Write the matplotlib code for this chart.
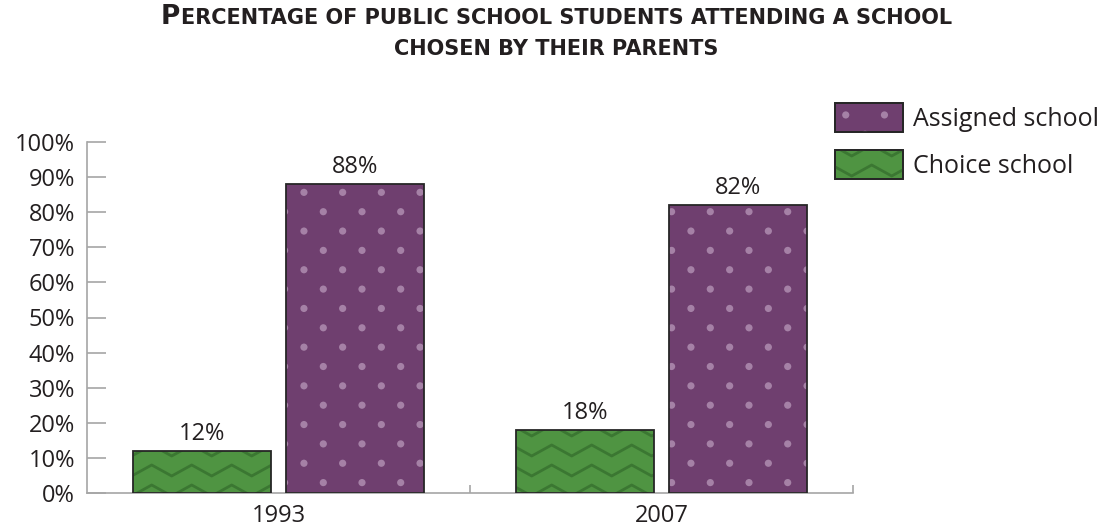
import numpy as np
import matplotlib
matplotlib.use("Agg")
import matplotlib.pyplot as plt
import matplotlib.patches as mpatches
from matplotlib.collections import LineCollection, PatchCollection
from matplotlib.transforms import IdentityTransform
from matplotlib.ticker import PercentFormatter

plt.rcParams['font.family'] = ['Open Sans', 'DejaVu Sans']

# data
years = ["1993", "2007"]
choice_pct = [12, 18]
assigned_pct = [88, 82]
series_labels = ["Assigned school", "Choice school"]
title_lines = ["Percentage of public school students attending a school",
               "chosen by their parents"]

GREEN = "#4f9442"
GREEN_LINE = "#3b7732"
PURPLE = "#6f3f6f"
PURPLE_DOT = "#a581a6"
EDGE = "#262626"
AXIS = "#a6a6a6"
TEXT = "#231f20"
FS = 17

W, H = 1110, 529
fig = plt.figure(figsize=(W / 100, H / 100), dpi=100)
ax = fig.add_axes([87 / W, 36 / H, 766 / W, 351 / H])

x = np.arange(len(years))
off, bw = 0.2, 0.36
green_bars = ax.bar(x - off, choice_pct, bw, color=GREEN, zorder=2)
purple_bars = ax.bar(x + off, assigned_pct, bw, color=PURPLE, zorder=2)
# outlines on top of the fill patterns
ax.bar(x - off, choice_pct, bw, fill=False, edgecolor=EDGE, linewidth=1.3, zorder=4)
ax.bar(x + off, assigned_pct, bw, fill=False, edgecolor=EDGE, linewidth=1.3, zorder=4)

for xi, v in zip(x - off, choice_pct):
    ax.annotate(f"{v}%", (xi, v), xytext=(0, 8), textcoords='offset points',
                ha='center', va='baseline', fontsize=FS, color=TEXT)
for xi, v in zip(x + off, assigned_pct):
    ax.annotate(f"{v}%", (xi, v), xytext=(0, 8), textcoords='offset points',
                ha='center', va='baseline', fontsize=FS, color=TEXT)

ax.set_xlim(-0.5, 1.5)
ax.set_ylim(0, 100)
ax.set_yticks(np.arange(0, 101, 10))
ax.yaxis.set_major_formatter(PercentFormatter(decimals=0))
ax.set_xticks(x, years)
ax.set_xticks([0.5, 1.5], minor=True)

for s in ['top', 'right']:
    ax.spines[s].set_visible(False)
for s in ['left', 'bottom']:
    ax.spines[s].set_color(AXIS)
    ax.spines[s].set_linewidth(1.2)

ax.tick_params(axis='y', direction='in', length=13.7, width=1.2, color=AXIS,
               pad=8.6, labelsize=FS, labelcolor=TEXT)
ax.tick_params(axis='x', which='major', length=0, pad=8, labelsize=FS, labelcolor=TEXT)
ax.tick_params(axis='x', which='minor', direction='in', length=5.8, width=1.2, color=AXIS)

leg_fs = 18
fs_px = leg_fs * 100 / 72
leg = fig.legend(handles=[mpatches.Patch(facecolor=PURPLE, edgecolor=EDGE, linewidth=1.3),
                          mpatches.Patch(facecolor=GREEN, edgecolor=EDGE, linewidth=1.3)],
                 labels=series_labels, loc='upper left',
                 bbox_to_anchor=(835 / W, 1 - 103 / H), bbox_transform=fig.transFigure,
                 frameon=False, fontsize=leg_fs, labelcolor=TEXT,
                 handlelength=68 / fs_px, handleheight=35 / fs_px,
                 handletextpad=10 / fs_px, labelspacing=18 / fs_px,
                 borderpad=0, borderaxespad=0)

# small caps title: first capital larger, the rest upper-cased at a smaller size
title_parts = [[(title_lines[0][0], 19), (title_lines[0][1:], 15)],
               [(title_lines[1], 15)]]
title_texts = []
for parts, y_px in zip(title_parts, [505, 474]):
    row = [fig.text(0, y_px / H, t.upper(), fontsize=s, fontweight='bold',
                    family='DejaVu Sans', va='baseline', color=TEXT) for t, s in parts]
    title_texts.append(row)

fig.canvas.draw()
renderer = fig.canvas.get_renderer()

for row in title_texts:
    widths = [t.get_window_extent(renderer).width for t in row]
    x0 = 556 - (sum(widths) + 1 * (len(row) - 1)) / 2
    for t, w in zip(row, widths):
        t.set_x(x0 / W)
        x0 += w + 1


def zigzag(bb):
    # chevron rows, anchored to the page so neighbouring bars line up
    period, amp, step = 40.0, 11.0, 20.0
    kx0 = np.floor((bb.x0 - 31.7) / period) - 1
    kx1 = np.ceil((bb.x1 - 31.7) / period) + 1
    peaks = 31.7 + period * np.arange(kx0, kx1 + 1)
    ky0 = np.floor((bb.y0 - 4) / step) - 1
    ky1 = np.ceil((bb.y1 - 4) / step) + 1
    segs = []
    for yp in 4 + step * np.arange(ky0, ky1 + 1):
        pts = []
        for px in peaks:
            pts.append((px - period / 2, yp - amp))
            pts.append((px, yp))
        segs.append(pts)
    return LineCollection(segs, colors=GREEN_LINE, linewidths=2.0,
                          transform=IdentityTransform())


def dots(bb):
    s = 19.35
    ax0, ay0 = 323.3, 317.3
    i0 = int(np.floor((bb.x0 - ax0) / s)) - 1
    i1 = int(np.ceil((bb.x1 - ax0) / s)) + 1
    j0 = int(np.floor((bb.y0 - ay0) / s)) - 1
    j1 = int(np.ceil((bb.y1 - ay0) / s)) + 1
    circles = [mpatches.Circle((ax0 + i * s, ay0 + j * s), 3.6)
               for i in range(i0, i1 + 1) for j in range(j0, j1 + 1) if (i + j) % 2 == 0]
    return PatchCollection(circles, facecolor=PURPLE_DOT, edgecolor='none',
                           transform=IdentityTransform())


for bars, maker in [(green_bars, zigzag), (purple_bars, dots)]:
    for bar in bars:
        coll = maker(bar.get_window_extent(renderer))
        coll.set_zorder(3)
        ax.add_collection(coll, autolim=False)
        coll.set_clip_path(bar)

for handle, maker in zip(leg.legend_handles, [dots, zigzag]):
    bb = handle.get_window_extent(renderer)
    coll = maker(bb)
    coll.set_zorder(6)
    fig.add_artist(coll)
    coll.set_clip_path(handle)
    fig.add_artist(mpatches.Rectangle((bb.x0, bb.y0), bb.width, bb.height, fill=False,
                                      edgecolor=EDGE, linewidth=1.3, zorder=7,
                                      transform=IdentityTransform()))

fig.savefig("out.png", dpi=100)
